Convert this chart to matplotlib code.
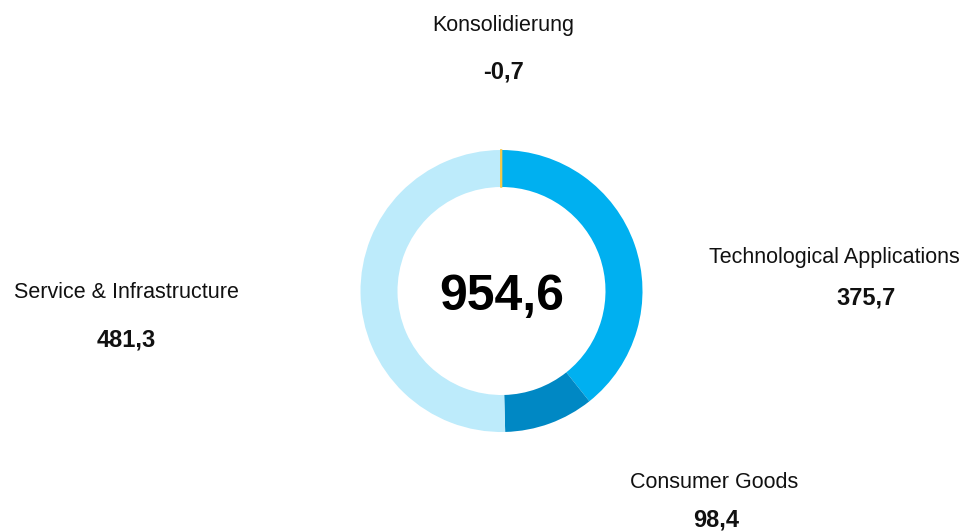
import matplotlib
matplotlib.use('Agg')
import matplotlib.pyplot as plt

# Daten
segmente = ['Technological Applications', 'Consumer Goods', 'Service & Infrastructure', 'Konsolidierung']
werte = [375.7, 98.4, 481.3, -0.7]
farben = ['#00B0F0', '#0088C4', '#BDEBFB', '#F2C94C']
gesamt = '954,6'

plt.rcParams['font.family'] = ['Liberation Sans', 'DejaVu Sans']

W, H = 961, 532
fig = plt.figure(figsize=(W / 100, H / 100), dpi=100)
ax = fig.add_axes([0, 0, 1, 1])

# Donut (Beträge für die Winkel)
wedges, _ = ax.pie([abs(v) for v in werte], colors=farben, startangle=90, counterclock=False,
                   center=(501.5, H - 291), radius=141, frame=True,
                   wedgeprops=dict(width=37, linewidth=0))
# Konsolidierung ist nur ein dünner Strich
wedges[3].set_edgecolor(farben[3])
wedges[3].set_linewidth(1.2)

ax.set_xlim(0, W)
ax.set_ylim(0, H)
ax.set_aspect('equal')
ax.axis('off')

ax.text(502, H - 297, gesamt, ha='center', va='center', fontsize=36, fontweight='bold')

def fmt(v):
    return f'{v:.1f}'.replace('.', ',')

# Beschriftungen: (x Label, y Label, x Wert, y Wert)
pos = {
    'Technological Applications': (834, 258, 866, 298),
    'Consumer Goods': (714, 483, 716, 520),
    'Service & Infrastructure': (126, 292, 126, 340),
    'Konsolidierung': (503, 25, 503, 72),
}
for name, v in zip(segmente, werte):
    xl, yl, xv, yv = pos[name]
    ax.text(xl, H - yl, name, ha='center', va='center', fontsize=15.5, color='#111111')
    ax.text(xv, H - yv, fmt(v), ha='center', va='center', fontsize=17,
            fontweight='bold', color='#111111')

fig.savefig('out.png', dpi=100, facecolor='white')
